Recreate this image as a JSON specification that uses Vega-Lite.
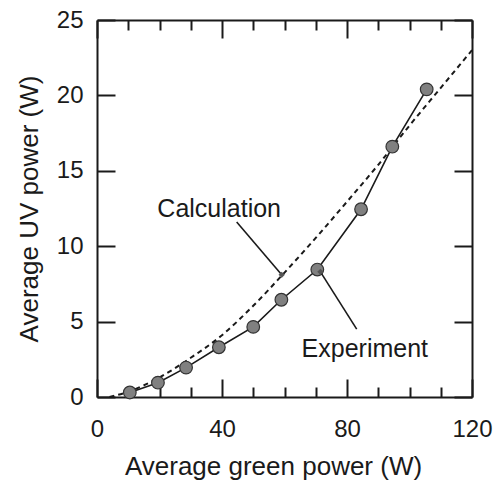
{
  "$schema": "https://vega.github.io/schema/vega-lite/v6.json",
  "width": 375,
  "height": 377,
  "autosize": "none",
  "padding": {"left": 97, "top": 20, "right": 21, "bottom": 84},
  "background": "white",
  "config": {
    "view": {"stroke": null},
    "font": "Liberation Sans",
    "axis": {
      "grid": false,
      "domainColor": "#1a1a1a",
      "domainWidth": 2,
      "tickColor": "#1a1a1a",
      "tickWidth": 2,
      "labelFlush": false,
      "labelFont": "Liberation Sans",
      "labelFontSize": 24,
      "labelColor": "#1a1a1a",
      "titleFont": "Liberation Sans",
      "titleFontSize": 26,
      "titleFontWeight": "normal",
      "titleColor": "#1a1a1a"
    }
  },
  "datasets": {
    "experiment": [
      {"green": 10.5, "uv": 0.3},
      {"green": 19.5, "uv": 0.95},
      {"green": 28.5, "uv": 1.95},
      {"green": 39, "uv": 3.3},
      {"green": 50, "uv": 4.65},
      {"green": 59, "uv": 6.45},
      {"green": 70.5, "uv": 8.45},
      {"green": 84.5, "uv": 12.45},
      {"green": 94.5, "uv": 16.6},
      {"green": 105.5, "uv": 20.4}
    ],
    "calculation": [
      {"green": 4, "uv": 0},
      {"green": 10, "uv": 0.35},
      {"green": 20, "uv": 1.3},
      {"green": 30, "uv": 2.6},
      {"green": 40, "uv": 4.1},
      {"green": 50, "uv": 6.05},
      {"green": 60, "uv": 8.25},
      {"green": 70, "uv": 10.55},
      {"green": 80, "uv": 12.95},
      {"green": 90, "uv": 15.4},
      {"green": 100, "uv": 18.0},
      {"green": 110, "uv": 20.5},
      {"green": 120, "uv": 23.0}
    ],
    "labels": [
      {"green": 39.1, "uv": 12.5, "text": "Calculation"},
      {"green": 85.7, "uv": 3.2, "text": "Experiment"}
    ],
    "leaders": [
      {"green": 44.7, "uv": 11.6, "green2": 59.1, "uv2": 8.1},
      {"green": 83.1, "uv": 4.5, "green2": 71.5, "uv2": 8.3}
    ]
  },
  "layer": [
    {
      "data": {"name": "experiment"},
      "mark": {"type": "line", "color": "#1a1a1a", "strokeWidth": 1.6},
      "encoding": {
        "x": {
          "field": "green", "type": "quantitative",
          "scale": {"domain": [0, 120], "nice": false, "zero": false},
          "axis": {
            "orient": "bottom",
            "title": "Average green power (W)",
            "titleX": 176,
            "values": [0, 10, 20, 30, 40, 50, 60, 70, 80, 90, 100, 110, 120],
            "labelExpr": "datum.value % 40 === 0 ? datum.label : ''",
            "tickSize": {"condition": {"test": "datum.value % 40 === 0", "value": -18}, "value": -10},
            "labelPadding": 38,
            "titlePadding": 12
          }
        },
        "y": {
          "field": "uv", "type": "quantitative",
          "scale": {"domain": [0, 25], "nice": false, "zero": false},
          "axis": {
            "orient": "left",
            "title": "Average UV power (W)",
            "values": [0, 5, 10, 15, 20, 25],
            "tickSize": -18,
            "labelPadding": 32,
            "titlePadding": 14
          }
        }
      }
    },
    {
      "data": {"name": "calculation"},
      "mark": {"type": "line", "color": "#1a1a1a", "strokeWidth": 2, "strokeDash": [5, 4], "interpolate": "monotone"},
      "encoding": {
        "x": {
          "field": "green", "type": "quantitative",
          "scale": {"domain": [0, 120], "nice": false, "zero": false},
          "axis": {
            "orient": "top",
            "title": null,
            "labels": false,
            "values": [0, 10, 20, 30, 40, 50, 60, 70, 80, 90, 100, 110, 120],
            "tickSize": {"condition": {"test": "datum.value % 40 === 0", "value": -18}, "value": -10}
          }
        },
        "y": {
          "field": "uv", "type": "quantitative",
          "scale": {"domain": [0, 25], "nice": false, "zero": false},
          "axis": {
            "orient": "right",
            "title": null,
            "labels": false,
            "values": [0, 5, 10, 15, 20, 25],
            "tickSize": -18
          }
        }
      }
    },
    {
      "data": {"name": "experiment"},
      "mark": {"type": "point", "filled": true, "size": 160, "fill": "#808080", "stroke": "#333333", "strokeWidth": 1.2, "opacity": 1},
      "encoding": {
        "x": {"field": "green", "type": "quantitative", "axis": null},
        "y": {"field": "uv", "type": "quantitative", "axis": null}
      }
    },
    {
      "data": {"name": "leaders"},
      "mark": {"type": "rule", "color": "#1a1a1a", "strokeWidth": 1.6},
      "encoding": {
        "x": {"field": "green", "type": "quantitative", "axis": null},
        "y": {"field": "uv", "type": "quantitative", "axis": null},
        "x2": {"field": "green2"},
        "y2": {"field": "uv2"}
      }
    },
    {
      "data": {"name": "leaders"},
      "mark": {"type": "point", "filled": true, "size": 40, "shape": "diamond", "color": "#555555", "opacity": 1},
      "encoding": {
        "x": {"field": "green2", "type": "quantitative", "axis": null},
        "y": {"field": "uv2", "type": "quantitative", "axis": null}
      }
    },
    {
      "data": {"name": "labels"},
      "mark": {"type": "text", "font": "Liberation Sans", "fontSize": 25, "color": "#1a1a1a", "align": "center", "baseline": "middle"},
      "encoding": {
        "x": {"field": "green", "type": "quantitative", "axis": null},
        "y": {"field": "uv", "type": "quantitative", "axis": null},
        "text": {"field": "text"}
      }
    }
  ],
  "resolve": {"axis": {"x": "independent", "y": "independent"}}
}
